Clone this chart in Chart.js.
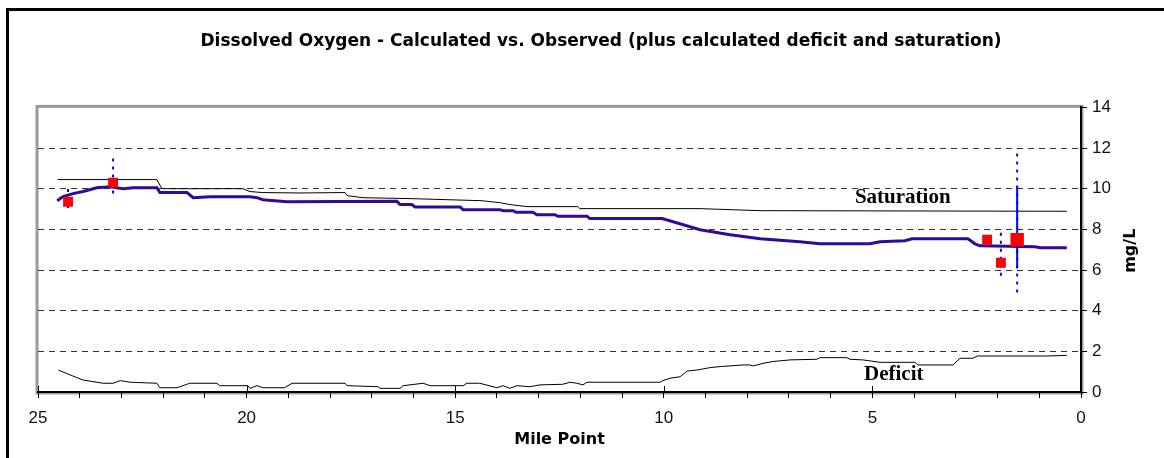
<!DOCTYPE html>
<html>
<head>
<meta charset="utf-8">
<script src="https://cdn.jsdelivr.net/npm/chart.js@4.4.1/dist/chart.umd.min.js"></script>
<style>
  html, body { margin: 0; padding: 0; background: #fff; }
  #wrap { width: 1164px; height: 458px; }
</style>
</head>
<body>
<div id="wrap"><canvas id="doChart" width="1164" height="458"></canvas></div>
<script>
// ---- data ----
// calculated DO along the river (mile point, mg/L)
const calcMile = [24.54, 24.40, 24.16, 23.92, 23.59, 23.27, 22.96, 22.72, 22.15, 22.08, 21.43, 21.28, 20.88, 19.92, 19.75, 19.61, 19.03, 16.40, 16.32, 16.04, 15.96, 14.88, 14.81, 13.93, 13.85, 13.61, 13.54, 13.14, 13.04, 12.61, 12.54, 11.84, 11.77, 10.04, 9.13, 8.41, 7.69, 6.74, 6.26, 5.06, 4.82, 4.22, 4.05, 2.71, 2.54, 2.42, 1.10, 0.98, 0.34];
const calcDO = [9.41, 9.61, 9.76, 9.86, 10.05, 10.10, 10.00, 10.05, 10.05, 9.81, 9.81, 9.56, 9.61, 9.61, 9.56, 9.46, 9.36, 9.38, 9.22, 9.22, 9.10, 9.10, 8.97, 8.97, 8.92, 8.92, 8.84, 8.84, 8.72, 8.72, 8.64, 8.64, 8.53, 8.53, 7.98, 7.74, 7.54, 7.39, 7.29, 7.29, 7.39, 7.44, 7.54, 7.54, 7.29, 7.19, 7.14, 7.10, 7.10];

// saturation
const satMile = [24.53, 22.15, 22.03, 20.09, 19.92, 19.61, 18.72, 17.64, 17.59, 17.23, 16.01, 14.36, 13.92, 13.69, 13.28, 12.06, 12.01, 9.13, 7.69, 0.34];
const satDO = [10.45, 10.45, 10.00, 10.00, 9.86, 9.81, 9.79, 9.81, 9.66, 9.56, 9.51, 9.41, 9.31, 9.22, 9.12, 9.12, 9.02, 9.02, 8.92, 8.89];

// deficit
const defMile = [24.51, 24.23, 23.92, 23.44, 23.20, 23.03, 22.79, 22.15, 22.08, 21.67, 21.36, 20.71, 20.64, 19.97, 19.92, 19.75, 19.61, 19.09, 18.91, 17.64, 17.59, 16.85, 16.80, 16.32, 16.25, 15.77, 15.60, 14.81, 14.72, 14.41, 14.00, 13.85, 13.69, 13.52, 13.21, 12.97, 12.42, 12.25, 12.08, 11.94, 11.84, 10.09, 10.02, 9.85, 9.61, 9.44, 9.20, 8.89, 8.65, 8.10, 7.93, 7.86, 7.62, 7.38, 6.97, 6.33, 6.26, 5.61, 5.54, 5.23, 4.82, 3.98, 3.91, 3.07, 2.90, 2.59, 2.49, 0.86, 0.34];
const defDO = [1.08, 0.84, 0.59, 0.43, 0.43, 0.56, 0.48, 0.43, 0.21, 0.21, 0.43, 0.43, 0.31, 0.31, 0.18, 0.31, 0.21, 0.21, 0.43, 0.43, 0.31, 0.26, 0.18, 0.18, 0.31, 0.43, 0.31, 0.31, 0.43, 0.43, 0.21, 0.31, 0.18, 0.31, 0.26, 0.35, 0.38, 0.48, 0.43, 0.35, 0.48, 0.48, 0.56, 0.68, 0.75, 1.03, 1.08, 1.20, 1.25, 1.33, 1.33, 1.28, 1.41, 1.50, 1.58, 1.61, 1.69, 1.69, 1.61, 1.58, 1.46, 1.46, 1.33, 1.33, 1.66, 1.66, 1.77, 1.77, 1.80];

// observed samples
const obsMile = [24.28, 23.20, 2.25, 1.92, 1.53];
const obsDO = [9.36, 10.30, 7.49, 6.36, 7.49];
const obsMin = [9.05, 9.76, null, 5.72, 4.90];
const obsMax = [9.99, 11.68, null, 8.03, 12.00];
const obsLow = [null, null, null, null, 6.10];
const obsHigh = [null, null, null, null, 10.12];
const obsSize = [7, 7, 7, 7, 9.5];

const mileTicks = [25, 20, 15, 10, 5, 0];
const doTicks = [0, 2, 4, 6, 8, 10, 12, 14];

const FONT = "'Liberation Sans', Arial, sans-serif";
const BOLD = "'DejaVu Sans', Verdana, sans-serif";
const SERIF = "'Liberation Serif', 'Times New Roman', serif";

const pts = (xs, ys) => xs.map((x, i) => ({ x: x, y: ys[i] }));

function barData(lo, hi) {
  const out = [];
  obsMile.forEach((m, i) => {
    if (lo[i] == null) return;
    out.push({ x: m, y: lo[i] }, { x: m, y: hi[i] }, { x: m, y: null });
  });
  return out;
}

// ---- extras: frame, plot border, labels ----
const extras = {
  id: "extras",
  beforeDraw(chart) {
    const { ctx, chartArea: a } = chart;
    ctx.save();
    ctx.fillStyle = "#000";
    ctx.fillRect(6, 8, 1164, 3);
    ctx.fillRect(6, 8, 3, 458);
    ctx.strokeStyle = "#9a9a9a";
    ctx.lineWidth = 3;
    ctx.strokeRect(a.left - 1, a.top - 1, a.right - a.left + 2, a.bottom - a.top + 2);
    ctx.restore();
  },
  afterDraw(chart) {
    const { ctx, scales } = chart;
    const x = scales.x, y = scales.y;
    ctx.save();
    // long major ticks on the mile axis
    ctx.strokeStyle = "#000";
    ctx.lineWidth = 1;
    mileTicks.forEach(m => {
      const px = Math.round(x.getPixelForValue(m)) + 0.5;
      ctx.beginPath();
      ctx.moveTo(px, y.bottom - 6);
      ctx.lineTo(px, y.bottom);
      ctx.stroke();
    });
    // curve labels
    ctx.fillStyle = "#000";
    ctx.font = "bold 21px " + SERIF;
    ctx.textAlign = "left";
    ctx.textBaseline = "middle";
    ctx.fillText("Saturation", x.getPixelForValue(5.42), y.getPixelForValue(9.55));
    ctx.fillText("Deficit", x.getPixelForValue(5.2), y.getPixelForValue(0.86));
    // y axis title, reading bottom to top
    ctx.font = "bold 16px " + BOLD;
    ctx.textAlign = "center";
    ctx.translate(1131, y.getPixelForValue(6.95));
    ctx.rotate(-Math.PI / 2);
    ctx.fillText("mg/L", 0, 0);
    ctx.restore();
  }
};

Chart.defaults.font.family = FONT;
Chart.defaults.color = "#000";

new Chart(document.getElementById("doChart"), {
  type: "line",
  data: {
    datasets: [
      {
        label: "Observed",
        data: pts(obsMile, obsDO),
        showLine: false,
        pointStyle: "rect",
        pointRadius: obsSize,
        pointBackgroundColor: "#ff0000",
        pointBorderWidth: 0,
        order: 0
      },
      {
        label: "Observed range",
        data: barData(obsMin, obsMax),
        borderColor: "#0000ff",
        borderWidth: 2,
        borderDash: [3, 5],
        pointRadius: 0,
        spanGaps: false,
        order: 1
      },
      {
        label: "Observed spread",
        data: barData(obsLow, obsHigh),
        borderColor: "#0000ff",
        borderWidth: 2,
        pointRadius: 0,
        spanGaps: false,
        order: 1
      },
      {
        label: "Calculated",
        data: pts(calcMile, calcDO),
        borderColor: "#2e0c98",
        borderWidth: 3,
        pointRadius: 0,
        tension: 0,
        order: 2
      },
      {
        label: "Saturation",
        data: pts(satMile, satDO),
        borderColor: "#000",
        borderWidth: 1,
        pointRadius: 0,
        tension: 0,
        order: 3
      },
      {
        label: "Deficit",
        data: pts(defMile, defDO),
        borderColor: "#000",
        borderWidth: 1,
        pointRadius: 0,
        tension: 0,
        order: 3
      }
    ]
  },
  options: {
    responsive: false,
    animation: false,
    events: [],
    layout: { padding: { left: 38, right: 0, top: 0, bottom: 0 } },
    plugins: {
      legend: { display: false },
      tooltip: { enabled: false },
      title: {
        display: true,
        text: "Dissolved Oxygen - Calculated vs. Observed (plus calculated deficit and saturation)",
        color: "#000",
        font: { size: 17, weight: "bold", family: BOLD },
        padding: { top: 31, bottom: 56 }
      }
    },
    scales: {
      x: {
        type: "linear",
        position: "bottom",
        reverse: true,
        min: 0,
        max: 25,
        afterFit: s => { s.height = 66; },
        afterBuildTicks: s => { s.ticks = Array.from({ length: 26 }, (_, i) => ({ value: i })); },
        ticks: {
          autoSkip: false,
          maxRotation: 0,
          padding: 10,
          color: "#111",
          font: { size: 17 },
          callback: v => (mileTicks.includes(v) ? String(v) : "")
        },
        grid: { drawOnChartArea: false, drawTicks: true, tickLength: 6, tickColor: "#000" },
        border: { color: "#000", width: 2 },
        title: {
          display: true,
          text: "Mile Point",
          color: "#000",
          font: { size: 16, weight: "bold", family: BOLD },
          padding: { top: 0, bottom: 9 }
        }
      },
      y: {
        type: "linear",
        position: "right",
        min: 0,
        max: 14,
        afterFit: s => { s.width = 83; },
        afterBuildTicks: s => { s.ticks = doTicks.map(v => ({ value: v })); },
        ticks: { padding: 5, color: "#111", font: { size: 17 } },
        grid: {
          drawTicks: true,
          tickLength: 6,
          tickColor: "#000",
          lineWidth: 1,
          color: c => (c.tick && (c.tick.value === 0 || c.tick.value === 14) ? "rgba(0,0,0,0)" : "#333")
        },
        border: { color: "#000", width: 2, dash: [6, 5] }
      }
    }
  },
  plugins: [extras]
});
</script>
</body>
</html>
